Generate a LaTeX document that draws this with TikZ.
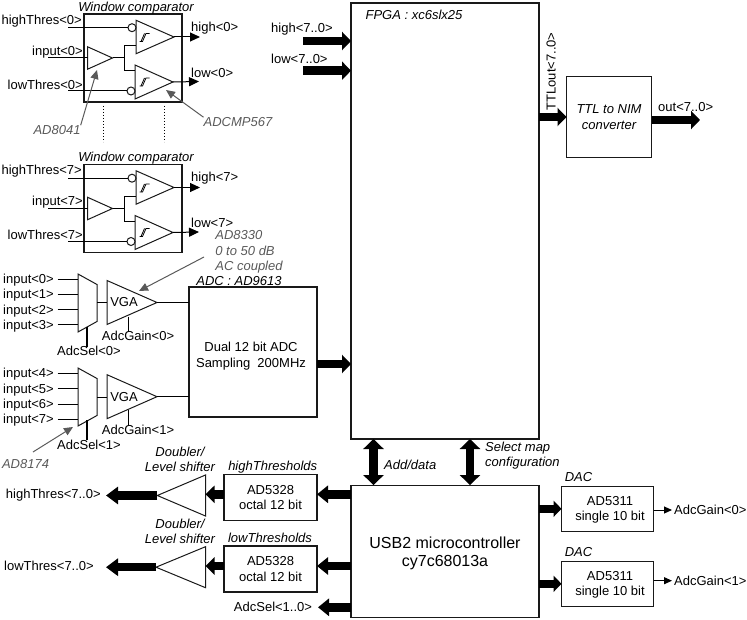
\documentclass[tikz,border=0pt]{standalone}
\usepackage{fontspec}
\setmainfont{Liberation Sans}
\usetikzlibrary{shapes.geometric, arrows.meta, positioning, calc}
\definecolor{qnote}{RGB}{89, 89, 89}

\begin{document}
\begin{tikzpicture}[
    x=1pt, y=-1pt,
    lblm/.style={font=\fontsize{13}{15.3}\selectfont, inner sep=0pt, align=center},
    lbl/.style={lblm, text height=9pt, text depth=0pt},
    italm/.style={font=\fontsize{13}{15}\selectfont\itshape, inner sep=0pt, align=center},
    ital/.style={italm, text height=9pt, text depth=0pt},
    note/.style={font=\fontsize{13}{15.5}\selectfont\itshape, text=qnote, inner sep=0pt, align=left},
    box/.style={draw=black!90, line width=1.1pt, inner sep=0pt, outer sep=0pt, align=center, font=\fontsize{13}{15.3}\selectfont},
    amp/.style={draw=black!90, line width=1pt, isosceles triangle, isosceles triangle stretches, anchor=lower side, inner sep=0pt, outer sep=0pt},
    bubble/.style={draw=black!90, line width=1pt, circle, minimum size=8pt, inner sep=0pt, outer sep=0pt},
    wire/.style={line width=1pt},
    sigarrow/.style={line width=1pt, -{Triangle[length=10pt,width=9pt]}},
    thinarrow/.style={line width=1pt, -{Triangle[length=8pt,width=7pt]}},
    fatarrow/.style={line width=8.5pt, -{Triangle[length=9pt,width=18pt]}},
    fatboth/.style={line width=8.5pt, {Triangle[length=10pt,width=20pt]}-{Triangle[length=10pt,width=20pt]}},
    callout/.style={qnote, line width=1pt, -{Triangle[length=9pt,width=8pt]}}
]
    \useasboundingbox (0,0) rectangle (747,620);

    % Window comparators
    \foreach \n/\dy in {0/0, 7/150.5} {
        \begin{scope}[yshift=-\dy pt]
            \node[box, minimum width=98pt, minimum height=88pt] (wc\n) at (133,58) {};
            \node[ital] (wctitle\n) at (136,7) {Window comparator};
            \node[amp, minimum width=33.5pt, minimum height=38pt] (cmphi\n) at (136,37) {};
            \node[amp, minimum width=34pt, minimum height=38pt] (cmplo\n) at (135,82) {};
            \node[amp, minimum width=22.5pt, minimum height=25pt] (buf\n) at (87.5,58) {};
            \node[bubble] (bubhi\n) at (132,27.7) {};
            \node[bubble] (bublo\n) at (131,91) {};
            \coordinate (thrhi\n) at (68,27.7);
            \coordinate (thrlo\n) at (68,91);
            \coordinate (bufin\n) at (48,58);
            \coordinate (split\n) at (124,58);
            \coordinate (pinhi\n) at (136,46);
            \coordinate (pinlo\n) at (135,71);
            \coordinate (outhi\n) at (200,37);
            \coordinate (outlo\n) at (199,81.5);
            \draw[wire] (thrhi\n) -- (bubhi\n);
            \draw[wire] (thrlo\n) -- (bublo\n);
            \draw[wire] (bufin\n) -- (buf\n.lower side);
            \draw[wire] (buf\n.apex) -- (split\n);
            \draw[wire] (pinhi\n) -| (split\n);
            \draw[wire] (pinlo\n) -| (split\n);
            \draw[sigarrow] (cmphi\n.apex) -- (outhi\n);
            \draw[sigarrow] (cmplo\n.apex) -- (outlo\n);
            % Hysteresis marks
            \draw[line width=.8pt] (139.5,41.5) -- (142.5,41.5) -- (146,33.5) -- (149.5,33.5);
            \draw[line width=.8pt] (141,41.5) -- (144.5,33.5);
            \draw[line width=.8pt] (139.5,86) -- (142.5,86) -- (146,78) -- (149.5,78);
            \draw[line width=.8pt] (141,86) -- (144.5,78);
            \node[lbl, anchor=east] (lblhi\n) at (82,20) {highThres<\n>};
            \node[lbl, anchor=east] (lblin\n) at (83,51) {input<\n>};
            \node[lbl, anchor=east] (lbllo\n) at (83,85) {lowThres<\n>};
            \node[lbl, anchor=west] (lblouthi\n) at (191,27) {high<\n>};
            \node[lbl, anchor=west] (lbloutlo\n) at (191,73) {low<\n>};
        \end{scope}
    }
    \draw[dotted, line width=1pt] (103.5,106) -- (103.5,142);
    \draw[dotted, line width=1pt] (164.5,106) -- (164.5,142);

    % Part notes
    \node[note] (ad8041) at (57,130) {AD8041};
    \node[note] (adcmp) at (238,122) {ADCMP567};
    \node[note] (ad8330) at (249,252) {AD8330\\0 to 50 dB\\AC coupled};
    \node[note] (ad8174) at (25.5,464) {AD8174};
    \coordinate (tipbuf) at (97,70);
    \coordinate (tipcmp) at (166,90);
    \coordinate (tailvga) at (204,257);
    \coordinate (tipvga) at (139,291);
    \coordinate (tailmux) at (33,452);
    \coordinate (tipmux) at (73,427);
    \draw[callout] (ad8041.north east) -- (tipbuf);
    \draw[callout] (adcmp.north west) -- (tipcmp);
    \draw[callout] (tailvga) -- (tipvga);
    \draw[callout] (tailmux) -- (tipmux);

    % ADC and its inputs
    \node[box, minimum width=128pt, minimum height=130pt] (adc) at (253,352) {};
    \node[ital] (adctitle) at (239,281) {ADC : AD9613};
    \node[lblm] (adctext) at (251,356) {Dual 12 bit ADC\\Sampling~~200MHz};
    \foreach \m/\ymux/\yvga/\ygain/\ysel in {0/303/302.5/316.7/326.7, 1/397/396.7/410/420} {
        \draw[black!90, line width=1pt] (78,\ymux-29) -- (97,\ymux-18.5) -- (97,\ymux+18.5) -- (78,\ymux+29) -- cycle;
        \coordinate (muxin\m) at (78,\ymux);
        \coordinate (muxout\m) at (97,\ymux);
        \node[amp, minimum width=44pt, minimum height=50pt] (vga\m) at (107,\yvga) {};
        \node[lbl] (vgatext\m) at (124,\yvga) {VGA};
        \draw[wire] (muxout\m) -- (muxout\m -| vga\m.lower side);
        \draw[wire] (vga\m.apex) -- (vga\m.apex -| adc.west);
        \coordinate (gtop\m) at (128.5,\ygain);
        \coordinate (stop\m) at (87,\ysel);
        \node[lbl] (gain\m) at (138,\ygain+19.5) {AdcGain<\m>};
        \node[lbl] (sel\m) at (89,\ysel+24.5) {AdcSel<\m>};
        \draw[wire] (gtop\m) -- (gtop\m |- gain\m.north);
        \draw[line width=2pt] (stop\m) -- (stop\m |- sel\m.north);
    }
    \foreach \i/\m/\y in {0/0/279.5, 1/0/294.5, 2/0/310, 3/0/325, 4/1/373.3, 5/1/388.5, 6/1/404, 7/1/419} {
        \node[lbl, anchor=east] (in\i) at (54,\y) {input<\i>};
        \coordinate (wirein\i) at (57.5,\y);
        \draw[wire] (wirein\i) -- (wirein\i -| muxin\m);
    }

    % FPGA
    \node[box, minimum width=188pt, minimum height=436pt] (fpga) at (445,221) {};
    \node[ital] (fpgatitle) at (414,15) {FPGA : xc6slx25};
    \node[lbl, anchor=west] (lblhigh) at (271,28.5) {high<7..0>};
    \node[lbl, anchor=west] (lbllow) at (271,58.7) {low<7..0>};
    \coordinate (busin) at (303,41);
    \coordinate (lowin) at (303,70.7);
    \coordinate (adcout) at (317,364);
    \draw[fatarrow] (busin) -- (busin -| fpga.west);
    \draw[fatarrow] (lowin) -- (lowin -| fpga.west);
    \draw[fatarrow] (adcout) -- (adcout -| fpga.west);

    % TTL to NIM
    \node[box, minimum width=85pt, minimum height=80.5pt, font=\fontsize{13}{15.3}\selectfont\itshape] (ttl) at (609,117) {TTL to NIM\\converter};
    \node[lbl, rotate=90] (lblttl) at (551,71.5) {TTLout<7..0>};
    \node[lbl, anchor=west] (lblout) at (658,107) {out<7..0>};
    \coordinate (outend) at (700,120);
    \draw[fatarrow] (fpga.east |- ttl.west) -- (ttl.west);
    \draw[fatarrow] (outend -| ttl.east) -- (outend);

    % USB microcontroller
    \node[box, minimum width=188pt, minimum height=132.5pt] (usb) at (445,551.3) {};
    \node[font=\fontsize{16}{18}\selectfont, inner sep=0pt, align=center] (usbtext) at (445,553) {USB2 microcontroller\\cy7c68013a};
    \coordinate (busadd) at (373.5,439);
    \coordinate (bussel) at (470,439);
    \draw[fatboth] (busadd) -- (busadd |- usb.north);
    \draw[fatboth] (bussel) -- (bussel |- usb.north);
    \node[ital, anchor=west] (lbladd) at (384,465) {Add/data};
    \node[italm, anchor=west, align=left] (lblsel) at (485,456) {Select map\\configuration};

    % DACs
    \foreach \n/\ybox/\ydac/\yout in {0/508.8/476.7/510, 1/583.8/552.3/580.7} {
        \node[box, minimum width=92pt, minimum height=45.5pt] (dac\n) at (607.5,\ybox) {};
        \node[lblm] (dactext\n) at (610,\ybox+1.2) {AD5311\\single 10 bit};
        \node[ital] (dactitle\n) at (578.5,\ydac) {DAC};
        \node[lbl, anchor=west] (lblgain\n) at (674,\yout) {AdcGain<\n>};
        \draw[line width=7.5pt, -{Triangle[length=8pt,width=16pt]}] (usb.east |- dac\n) -- (dac\n.west);
        \coordinate (dacend\n) at (672,\yout);
        \draw[thinarrow] (dacend\n -| dac\n.east) -- (dacend\n);
    }

    % Threshold DACs and level shifters
    \foreach \n/\t/\tx/\ybox/\ybus/\yamp/\xtip/\yout/\wdt in {high/highThresholds/272.7/497.2/494.3/495.5/157.3/497/53.3, low/lowThresholds/270/569/566/567.2/156/566/49} {
        \node[box, minimum width=93pt, minimum height=46pt] (da\n) at (270.5,\ybox) {AD5328\\octal 12 bit};
        \node[ital] (datitle\n) at (\tx,\ybox-31.5) {\t};
        \node[italm] (dbltext\n) at (180,\ybox-38) {Doubler/\\Level shifter};
        \node[amp, shape border rotate=180, minimum width=41pt, minimum height=205.5pt-\xtip pt] (dbl\n) at (205.5,\yamp) {};
        \node[lbl] (lblthr\n) at (\wdt,\ybus) {\n Thres<7..0>};
        \coordinate (thrbus\n) at (351,\ybus);
        \coordinate (thrend\n) at (106,\yout);
        \draw[fatarrow, -{Triangle[length=11pt,width=17pt]}] (thrbus\n) -- (thrbus\n -| da\n.east);
        \draw[fatarrow, -{Triangle[length=9pt,width=17pt]}] (thrbus\n -| da\n.west) -- (thrbus\n -| dbl\n.lower side);
        \draw[fatarrow, -{Triangle[length=12pt,width=17pt]}] (dbl\n.apex) -- (dbl\n.apex -| thrend\n);
    }
    \node[lbl] (lblsel10) at (273,606.7) {AdcSel<1..0>};
    \coordinate (selbus) at (351,607.3);
    \coordinate (selend) at (318,607.3);
    \draw[fatarrow, -{Triangle[length=11pt,width=17pt]}] (selbus) -- (selend);
\end{tikzpicture}
\end{document}
